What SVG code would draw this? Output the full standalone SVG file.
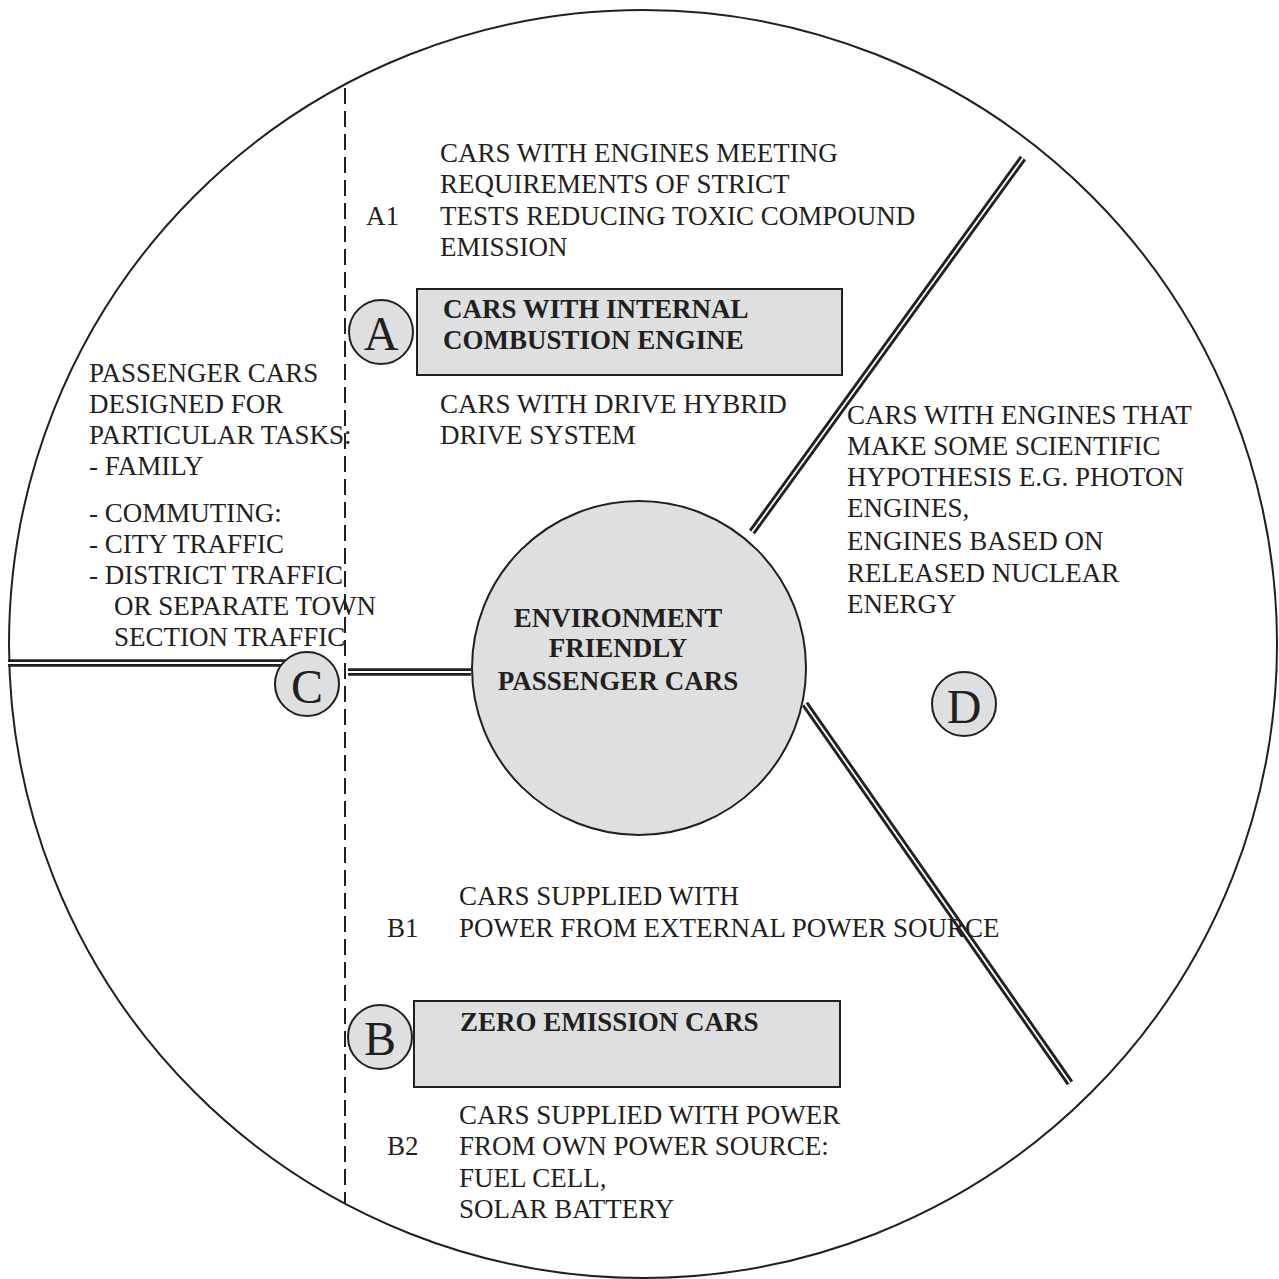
<svg xmlns="http://www.w3.org/2000/svg" width="1279" height="1279" viewBox="0 0 1279 1279">
<style>
.t{font-family:"Liberation Serif","Times New Roman",serif;font-size:27px;fill:#231f20}
.b{font-family:"Liberation Serif","Times New Roman",serif;font-size:27px;font-weight:bold;fill:#231f20}
.L{font-family:"Liberation Serif","Times New Roman",serif;font-size:48px;fill:#231f20;text-anchor:middle}
.g{fill:#dedfe1;stroke:#231f20;stroke-width:2}
.dbo{stroke:#231f20;stroke-width:7.5;fill:none}
.dbi{stroke:#ffffff;stroke-width:1.8;fill:none}
</style>
<rect width="1279" height="1279" fill="#ffffff"/>
<g id="outer">
<circle cx="643" cy="644" r="634" fill="none" stroke="#231f20" stroke-width="2"/>
<line x1="345" y1="88" x2="345" y2="1204" stroke="#231f20" stroke-width="2" stroke-dasharray="16 7"/>
</g>
<g id="connectors">
<line class="dbo" x1="8" y1="663" x2="287" y2="663"/>
<line class="dbi" x1="8" y1="663" x2="287" y2="663"/>
<line class="dbo" x1="348" y1="672" x2="471" y2="672"/>
<line class="dbi" x1="348" y1="672" x2="471" y2="672"/>
<line class="dbo" x1="752" y1="532" x2="1023" y2="158"/>
<line class="dbi" x1="752" y1="532" x2="1023" y2="158"/>
<line class="dbo" x1="805" y1="704" x2="1070" y2="1083"/>
<line class="dbi" x1="805" y1="704" x2="1070" y2="1083"/>
</g>
<g id="center">
<circle class="g" cx="639" cy="668" r="167"/>
<text class="b" x="618" y="627" text-anchor="middle">ENVIRONMENT</text>
<text class="b" x="618" y="657" text-anchor="middle">FRIENDLY</text>
<text class="b" x="618" y="690" text-anchor="middle">PASSENGER CARS</text>
</g>
<g id="nodeA">
<rect class="g" x="417" y="289" width="425" height="86"/>
<text class="b" x="443" y="318">CARS WITH INTERNAL</text>
<text class="b" x="443" y="349">COMBUSTION ENGINE</text>
<circle class="g" cx="381" cy="332" r="32"/>
<text class="L" x="381" y="350">A</text>
</g>
<g id="nodeB">
<rect class="g" x="414" y="1001" width="426" height="86"/>
<text class="b" x="460" y="1031">ZERO EMISSION CARS</text>
<circle class="g" cx="380" cy="1037" r="32"/>
<text class="L" x="380" y="1055">B</text>
</g>
<g id="nodeC">
<circle class="g" cx="307" cy="684" r="32"/>
<text class="L" x="307" y="703">C</text>
</g>
<g id="nodeD">
<circle class="g" cx="964" cy="704" r="32"/>
<text class="L" x="964" y="723">D</text>
</g>
<g id="A1">
<text class="t" x="366" y="225">A1</text>
<text class="t" x="440" y="162">CARS WITH ENGINES MEETING</text>
<text class="t" x="440" y="193">REQUIREMENTS OF STRICT</text>
<text class="t" x="440" y="225">TESTS REDUCING TOXIC COMPOUND</text>
<text class="t" x="440" y="256">EMISSION</text>
</g>
<g id="A2">
<text class="t" x="440" y="413">CARS WITH DRIVE HYBRID</text>
<text class="t" x="440" y="444">DRIVE SYSTEM</text>
</g>
<g id="Ctext">
<text class="t" x="89" y="382">PASSENGER CARS</text>
<text class="t" x="89" y="413">DESIGNED FOR</text>
<text class="t" x="89" y="444">PARTICULAR TASKS:</text>
<text class="t" x="89" y="475">- FAMILY</text>
<text class="t" x="89" y="522">- COMMUTING:</text>
<text class="t" x="89" y="553">- CITY TRAFFIC</text>
<text class="t" x="89" y="584">- DISTRICT TRAFFIC</text>
<text class="t" x="114" y="615">OR SEPARATE TOWN</text>
<text class="t" x="114" y="646">SECTION TRAFFIC</text>
</g>
<g id="Dtext">
<text class="t" x="847" y="424">CARS WITH ENGINES THAT</text>
<text class="t" x="847" y="455">MAKE SOME SCIENTIFIC</text>
<text class="t" x="847" y="486">HYPOTHESIS E.G. PHOTON</text>
<text class="t" x="847" y="517">ENGINES,</text>
<text class="t" x="847" y="550">ENGINES BASED ON</text>
<text class="t" x="847" y="582">RELEASED NUCLEAR</text>
<text class="t" x="847" y="613">ENERGY</text>
</g>
<g id="B1">
<text class="t" x="459" y="905">CARS SUPPLIED WITH</text>
<text class="t" x="387" y="937">B1</text>
<text class="t" x="459" y="937">POWER FROM EXTERNAL POWER SOURCE</text>
</g>
<g id="B2">
<text class="t" x="459" y="1124">CARS SUPPLIED WITH POWER</text>
<text class="t" x="387" y="1155">B2</text>
<text class="t" x="459" y="1155">FROM OWN POWER SOURCE:</text>
<text class="t" x="459" y="1187">FUEL CELL,</text>
<text class="t" x="459" y="1218">SOLAR BATTERY</text>
</g>
</svg>
